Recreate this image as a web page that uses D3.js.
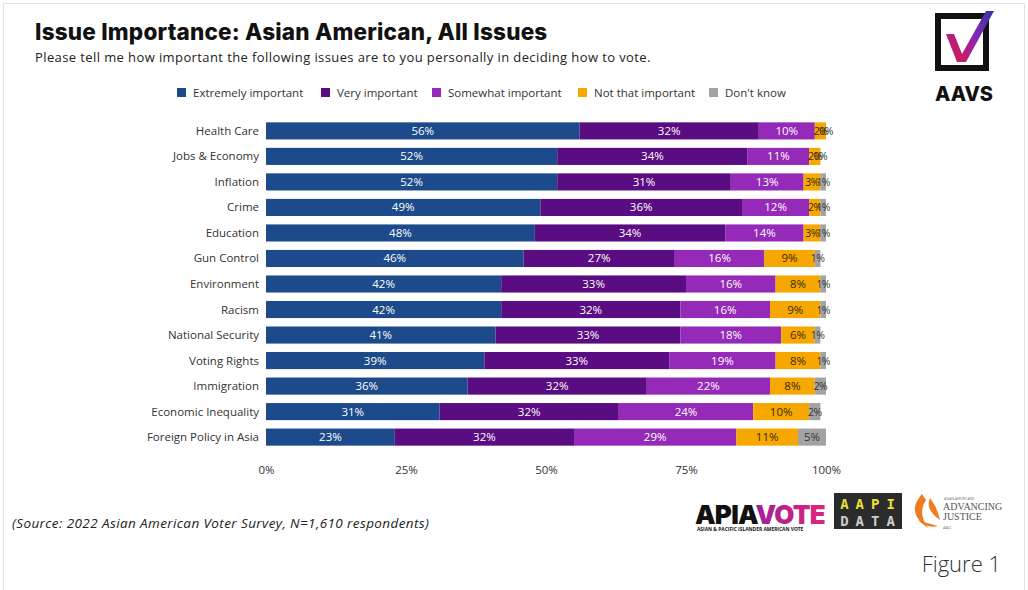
<!DOCTYPE html>
<html>
<head>
<meta charset="utf-8">
<script src="https://cdn.jsdelivr.net/npm/d3@7"></script>
<style>
  body { margin: 0; background: #fff; }
  svg { display: block; font-family: "Open Sans", "DejaVu Sans", sans-serif; }
</style>
</head>
<body>
<div id="chart"></div>
<script>
// Chart data
const issues = ["Health Care", "Jobs & Economy", "Inflation", "Crime", "Education",
  "Gun Control", "Environment", "Racism", "National Security", "Voting Rights",
  "Immigration", "Economic Inequality", "Foreign Policy in Asia"];
const seriesNames = ["Extremely important", "Very important", "Somewhat important",
  "Not that important", "Don't know"];
const extremely = [56, 52, 52, 49, 48, 46, 42, 42, 41, 39, 36, 31, 23];
const very      = [32, 34, 31, 36, 34, 27, 33, 32, 33, 33, 32, 32, 32];
const somewhat  = [10, 11, 13, 12, 14, 16, 16, 16, 18, 19, 22, 24, 29];
const notThat   = [2, 2, 3, 2, 3, 9, 8, 9, 6, 8, 8, 10, 11];
const dontKnow  = [0, 0, 1, 1, 1, 1, 1, 1, 1, 1, 2, 2, 5];
const xTicks = [0, 25, 50, 75, 100];

const colors = ["#1c4a8b", "#5a0c82", "#9529b8", "#f6a800", "#a3a3a3"];
const labelColors = ["#fff", "#fff", "#fff", "#3a2a00", "#333"];

const width = 1028, height = 590;
const margin = { left: 266, right: 202, top: 118, bottom: 140 };

const svg = d3.select("#chart").append("svg")
  .attr("width", width).attr("height", height);

// light frame around the figure
svg.append("rect").attr("x", 3.5).attr("y", 3.5)
  .attr("width", width - 7).attr("height", height + 10)
  .attr("fill", "none").attr("stroke", "#e2e2e2");

// Title and subtitle
svg.append("text").attr("x", 35).attr("y", 40)
  .attr("font-size", 22.5).attr("font-weight", 800).attr("fill", "#111")
  .attr("letter-spacing", 0.2)
  .style("font-family", "Inter, 'Open Sans', sans-serif")
  .text("Issue Importance: Asian American, All Issues");
svg.append("text").attr("x", 35).attr("y", 62)
  .attr("font-size", 13).attr("fill", "#222").attr("letter-spacing", 0.4)
  .text("Please tell me how important the following issues are to you personally in deciding how to vote.");

// Build stacked table
const allSeries = [extremely, very, somewhat, notThat, dontKnow];
const table = issues.map((name, i) => {
  const row = { issue: name };
  seriesNames.forEach((s, k) => row[s] = allSeries[k][i]);
  return row;
});
const stacked = d3.stack().keys(seriesNames)(table);

const x = d3.scaleLinear().domain([0, 100]).range([margin.left, width - margin.right]);
const y = d3.scaleBand().domain(issues)
  .range([margin.top, height - margin.bottom]).paddingInner(0.33).paddingOuter(0.17);

// Legend
const legendX = [177, 321, 432, 578, 709];
const legend = svg.append("g");
seriesNames.forEach((s, k) => {
  legend.append("rect").attr("x", legendX[k]).attr("y", 88)
    .attr("width", 9).attr("height", 9).attr("fill", colors[k]);
  legend.append("text").attr("x", legendX[k] + 16).attr("y", 96.5)
    .attr("font-size", 11.5).attr("fill", "#333").text(s);
});

// Bars
const groups = svg.append("g").selectAll("g")
  .data(stacked).join("g")
  .attr("fill", (d, k) => colors[k]);

groups.selectAll("rect")
  .data(d => d)
  .join("rect")
  .attr("x", d => x(d[0]))
  .attr("y", d => y(d.data.issue))
  .attr("width", d => x(d[1]) - x(d[0]))
  .attr("height", y.bandwidth());

// Value labels (tiny slices are squeezed together, as in the original)
groups.each(function (series, k) {
  d3.select(this).selectAll("text")
    .data(series)
    .join("text")
    .attr("x", d => (x(d[0]) + x(d[1])) / 2)
    .attr("y", d => y(d.data.issue) + y.bandwidth() / 2 + 4)
    .attr("text-anchor", "middle")
    .attr("font-size", d => (d[1] - d[0]) < 4 ? 10.5 : 11.5)
    .attr("letter-spacing", d => (d[1] - d[0]) < 4 ? -0.6 : 0)
    .attr("fill", labelColors[k])
    .text(d => (d[1] - d[0]) + "%");
});

// Category axis
svg.append("g").selectAll("text")
  .data(issues).join("text")
  .attr("x", margin.left - 7)
  .attr("y", d => y(d) + y.bandwidth() / 2 + 4)
  .attr("text-anchor", "end")
  .attr("font-size", 11.5).attr("fill", "#333")
  .text(d => d);

// X axis
const xAxis = svg.append("g")
  .attr("transform", `translate(0,${height - margin.bottom})`)
  .call(d3.axisBottom(x).tickValues(xTicks).tickFormat(d => d + "%").tickSize(0).tickPadding(16));
xAxis.select(".domain").remove();
xAxis.selectAll("text").attr("font-size", 11.5).attr("fill", "#333")
  .style("font-family", "'Open Sans', sans-serif");

// AAVS logo (top right)
const logo = svg.append("g");
logo.append("rect").attr("x", 938).attr("y", 16).attr("width", 48).attr("height", 52)
  .attr("fill", "none").attr("stroke", "#111").attr("stroke-width", 6);
const defs = svg.append("defs");
const grad = defs.append("linearGradient").attr("id", "chk")
  .attr("x1", 0).attr("y1", 1).attr("x2", 1).attr("y2", 0);
grad.append("stop").attr("offset", "0%").attr("stop-color", "#e8173c");
grad.append("stop").attr("offset", "55%").attr("stop-color", "#8a24b4");
grad.append("stop").attr("offset", "100%").attr("stop-color", "#2b3aa8");
logo.append("path")
  .attr("d", "M946,34 L954,34 L962,54 L986,11 L994,11 L966,62 L957,62 Z")
  .attr("fill", "url(#chk)");
logo.append("text").attr("x", 964).attr("y", 101).attr("text-anchor", "middle")
  .attr("font-size", 20).attr("font-weight", 800).attr("fill", "#111")
  .style("font-family", "Inter, sans-serif").text("AAVS");

// Source note
svg.append("text").attr("x", 12).attr("y", 528)
  .attr("font-size", 13.5).attr("font-style", "italic").attr("fill", "#222")
  .attr("letter-spacing", 0.4)
  .text("(Source: 2022 Asian American Voter Survey, N=1,610 respondents)");

// Bottom logos
const vg = defs.append("linearGradient").attr("id", "vote")
  .attr("x1", 0).attr("y1", 0).attr("x2", 1).attr("y2", 0);
vg.append("stop").attr("offset", "0%").attr("stop-color", "#6a1fb0");
vg.append("stop").attr("offset", "100%").attr("stop-color", "#e0247a");
const apia = svg.append("g");
const apiaText = apia.append("text").attr("x", 695).attr("y", 524)
  .attr("font-size", 26).attr("font-weight", 900).attr("letter-spacing", -0.8)
  .style("font-family", "Inter, sans-serif");
apiaText.append("tspan").attr("fill", "#111").text("APIA");
apiaText.append("tspan").attr("fill", "url(#vote)").text("VOTE");
apia.append("text").attr("x", 697).attr("y", 531)
  .attr("font-size", 4.9).attr("font-weight", 700).attr("fill", "#111")
  .text("ASIAN & PACIFIC ISLANDER AMERICAN VOTE");

const aapi = svg.append("g");
aapi.append("rect").attr("x", 834).attr("y", 493).attr("width", 68).attr("height", 36).attr("fill", "#2b2b2b");
aapi.append("text").attr("x", 871).attr("y", 509).attr("text-anchor", "middle")
  .attr("font-size", 14).attr("font-weight", 700).attr("fill", "#e8e23a")
  .attr("letter-spacing", 7).style("font-family", "'DejaVu Sans Mono', monospace").text("AAPI");
aapi.append("text").attr("x", 871).attr("y", 526).attr("text-anchor", "middle")
  .attr("font-size", 14).attr("font-weight", 700).attr("fill", "#cfcfcf")
  .attr("letter-spacing", 7).style("font-family", "'DejaVu Sans Mono', monospace").text("DATA");

const aj = svg.append("g");
aj.append("path").attr("d", "M922,494 C910,508 914,518 928,528 C920,517 921,508 926,500 Z").attr("fill", "#f07c22");
aj.append("path").attr("d", "M930,498 C926,508 932,514 940,520 C938,512 936,506 930,498 Z").attr("fill", "#f07c22");
aj.append("path").attr("d", "M918,520 C924,526 932,528 938,526 C930,524 924,522 918,520 Z").attr("fill", "#f07c22");
aj.append("text").attr("x", 944).attr("y", 500).attr("font-size", 3.5).attr("fill", "#777").text("ASIAN AMERICANS");
aj.append("text").attr("x", 943).attr("y", 510).attr("font-size", 10).attr("fill", "#555")
  .style("font-family", "'Liberation Serif', serif").text("ADVANCING");
aj.append("text").attr("x", 943).attr("y", 520).attr("font-size", 10).attr("fill", "#555")
  .style("font-family", "'Liberation Serif', serif").text("JUSTICE");
aj.append("text").attr("x", 943).attr("y", 529).attr("font-size", 4).attr("fill", "#777").text("AAJC");

// Figure caption
svg.append("text").attr("x", 1001).attr("y", 572).attr("text-anchor", "end")
  .attr("font-size", 22).attr("fill", "#333")
  .style("font-family", "'Open Sans', sans-serif").attr("font-weight", 300)
  .text("Figure 1");
</script>
</body>
</html>
